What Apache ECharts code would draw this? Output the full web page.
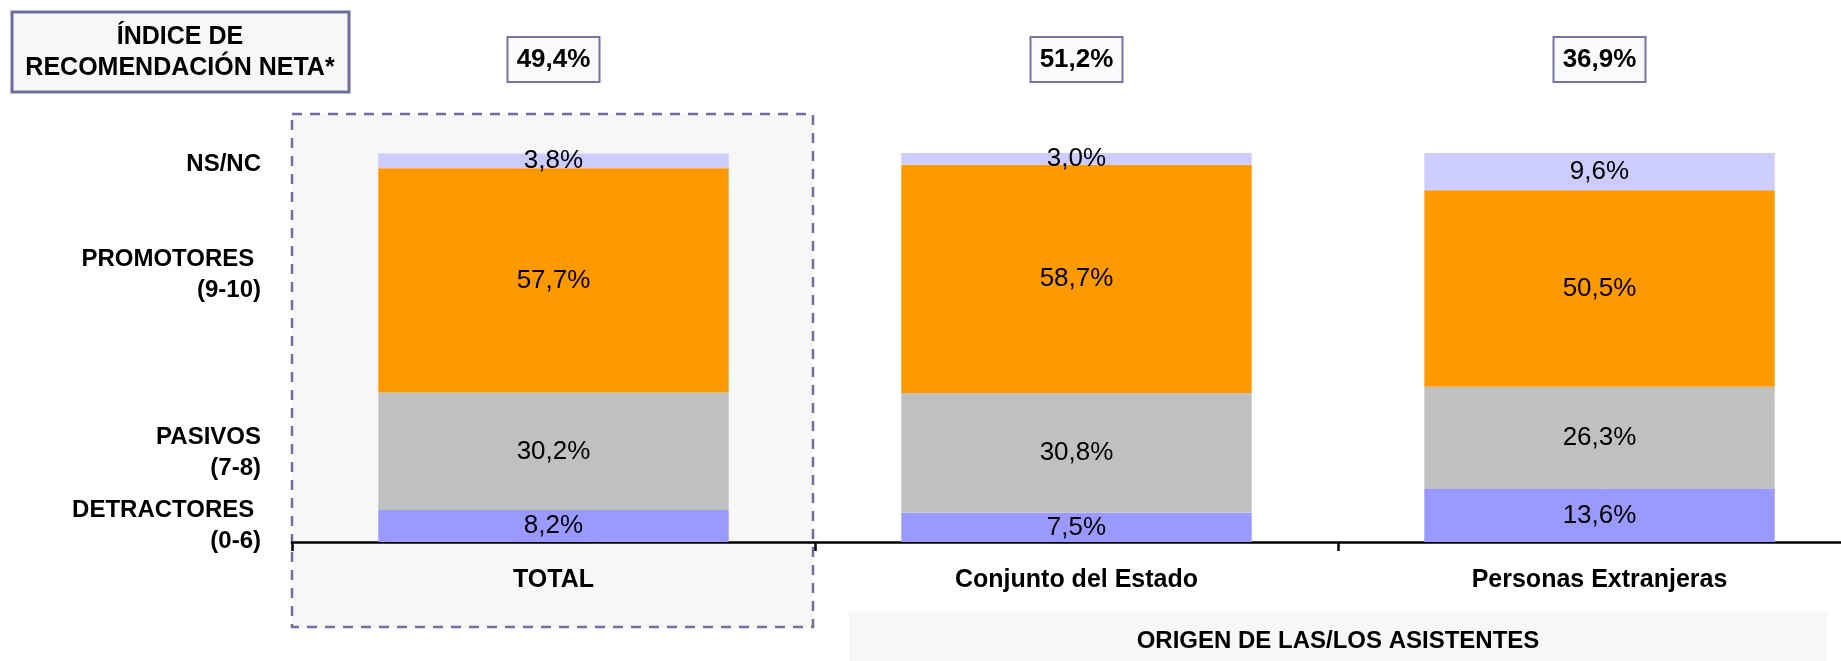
<!DOCTYPE html>
<html>
<head>
<meta charset="utf-8">
<script src="https://cdn.jsdelivr.net/npm/echarts@6/dist/echarts.min.js"></script>
<style>
  html, body { margin: 0; padding: 0; background: #ffffff; }
  #chart { width: 1841px; height: 661px; }
</style>
</head>
<body>
<div id="chart"></div>
<script>
// Categories along the x axis
const categories = ['TOTAL', 'Conjunto del Estado', 'Personas Extranjeras'];

// Share of respondents per group (%)
const detractores = [8.2, 7.5, 13.6];
const pasivos = [30.2, 30.8, 26.3];
const promotores = [57.7, 58.7, 50.5];
const nsnc = [3.8, 3.0, 9.6];

// Net recommendation index shown above each column
const npsLabels = ['49,4%', '51,2%', '36,9%'];

// Row labels on the left
const rowLabels = ['NS/NC', 'PROMOTORES \n(9-10)', 'PASIVOS\n(7-8)', 'DETRACTORES \n(0-6)'];

const FONT = "'Liberation Sans', Arial, sans-serif";
const fmt = v => v.toFixed(1).replace('.', ',') + '%';

const chart = echarts.init(document.getElementById('chart'), null, { renderer: 'canvas' });

function seg(name, data, color) {
  return {
    name: name,
    type: 'bar',
    stack: 'total',
    data: data,
    barWidth: '67%',
    itemStyle: { color: color },
    label: {
      show: true,
      position: 'inside',
      formatter: p => fmt(p.value),
      color: '#000',
      fontFamily: FONT,
      fontSize: 26
    },
    emphasis: { disabled: true }
  };
}

const option = {
  animation: false,
  backgroundColor: '#ffffff',
  // the last band runs past the right edge of the canvas
  grid: {
    left: 292, width: 1569, top: 153, bottom: 119,
    containLabel: false, outerBoundsMode: 'none'
  },
  xAxis: {
    type: 'category',
    data: categories,
    axisLine: { show: true, lineStyle: { color: '#000', width: 2.5 } },
    axisTick: { show: true, length: 9, lineStyle: { color: '#000', width: 2.5 } },
    axisLabel: {
      color: '#000',
      fontFamily: FONT,
      fontWeight: 'bold',
      fontSize: 25,
      margin: 26
    }
  },
  yAxis: {
    type: 'value',
    min: 0,
    max: 100,
    show: false,
    splitLine: { show: false }
  },
  series: [
    seg('DETRACTORES (0-6)', detractores, '#9999FF'),
    seg('PASIVOS (7-8)', pasivos, '#C0C0C0'),
    seg('PROMOTORES (9-10)', promotores, '#FF9900'),
    seg('NS/NC', nsnc, '#CCCCFF')
  ]
};

chart.setOption(option);

// Decorations placed relative to the category axis
const centers = categories.map(c => chart.convertToPixel({ xAxisIndex: 0 }, c));
const bandW = centers[1] - centers[0];

const graphics = [];

// Highlight frame behind the TOTAL column
graphics.push({
  type: 'rect',
  z: -10,
  shape: { x: centers[0] - bandW / 2, y: 114, width: bandW - 2, height: 513 },
  style: { fill: '#F7F7F7', stroke: '#6E6EA0', lineWidth: 2.5, lineDash: [10, 8] }
});

// Header box
graphics.push({
  type: 'rect',
  shape: { x: 12, y: 12, width: 337, height: 80 },
  style: { fill: '#F7F7F7', stroke: '#6E6E9E', lineWidth: 3 }
});
graphics.push({
  type: 'text',
  x: 180, y: 53,
  style: {
    text: 'ÍNDICE DE\nRECOMENDACIÓN NETA*',
    fontFamily: FONT, fontWeight: 'bold', fontSize: 25,
    fill: '#000', align: 'center', verticalAlign: 'middle', lineHeight: 31
  }
});

// Net index boxes above each column
npsLabels.forEach((t, i) => {
  graphics.push({
    type: 'rect',
    shape: { x: centers[i] - 46, y: 37, width: 92, height: 45 },
    style: { fill: '#FAFAFD', stroke: '#7474A6', lineWidth: 2 }
  });
  graphics.push({
    type: 'text',
    x: centers[i], y: 60,
    style: {
      text: t, fontFamily: FONT, fontWeight: 'bold', fontSize: 26,
      fill: '#000', align: 'center', verticalAlign: 'middle'
    }
  });
});

// Row labels
const rowY = [164, 274.5, 453, 525.5];
rowLabels.forEach((t, i) => {
  graphics.push({
    type: 'text',
    x: 261, y: rowY[i],
    style: {
      text: t, fontFamily: FONT, fontWeight: 'bold', fontSize: 24,
      fill: '#000', align: 'right', verticalAlign: 'middle', lineHeight: 31
    }
  });
});

// Group caption under the two origin columns
graphics.push({
  type: 'rect',
  z: -10,
  shape: { x: 849, y: 612, width: 978, height: 60 },
  style: { fill: '#F7F7F7' }
});
graphics.push({
  type: 'text',
  x: (centers[1] + centers[2]) / 2, y: 641,
  style: {
    text: 'ORIGEN DE LAS/LOS ASISTENTES', fontFamily: FONT, fontWeight: 'bold', fontSize: 24,
    fill: '#000', align: 'center', verticalAlign: 'middle'
  }
});

chart.setOption({ graphic: { elements: graphics } });
</script>
</body>
</html>
